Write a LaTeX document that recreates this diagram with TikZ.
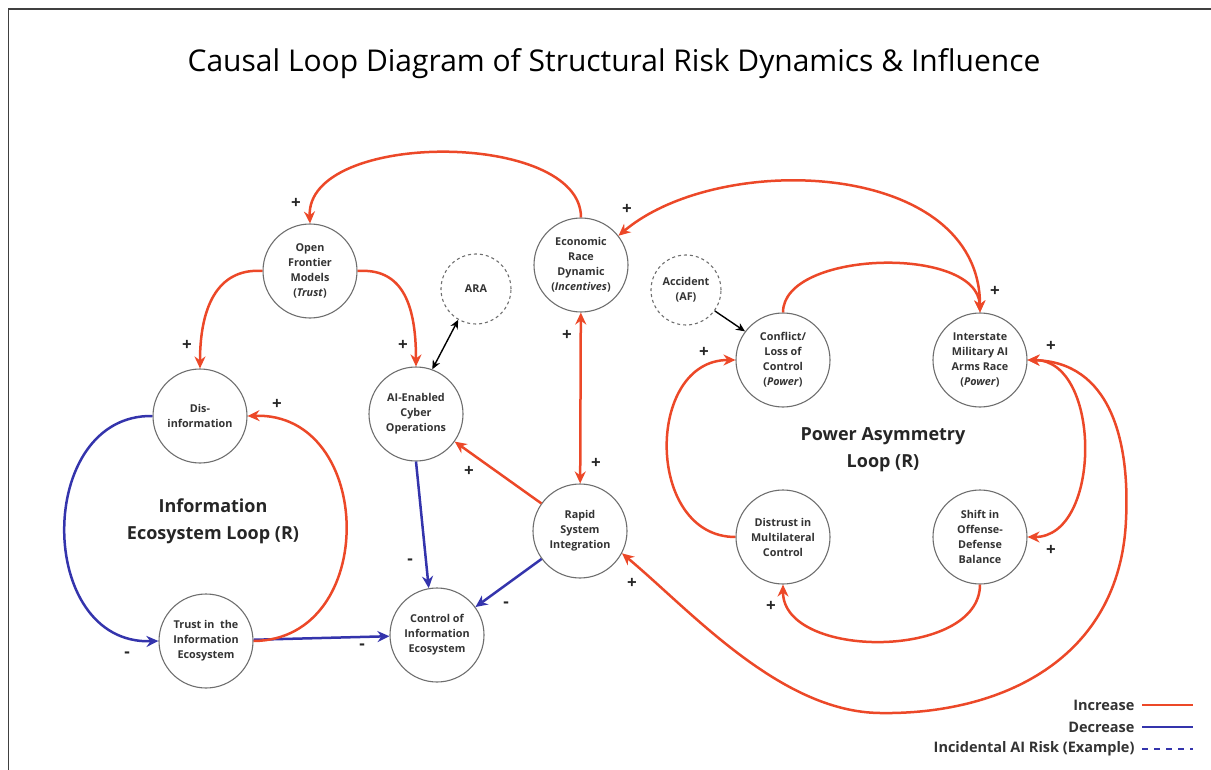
\documentclass[tikz,border=0pt]{standalone}
\usepackage{fontspec}
\setmainfont{Open Sans}
\usetikzlibrary{arrows.meta}
\definecolor{incred}{RGB}{236,72,40}
\definecolor{decblue}{RGB}{52,52,172}
\definecolor{rimgray}{RGB}{110,110,110}
\begin{document}
\begin{tikzpicture}[x=1pt,y=-1pt,
  var/.style={draw=rimgray, line width=1.1pt, circle, minimum size=94pt, inner sep=0pt, align=center,
    font=\fontsize{10.8}{15}\selectfont\bfseries, text=black!80},
  ext/.style={var, dashed, minimum size=70pt},
  sign/.style={font=\fontsize{17}{17}\selectfont\bfseries, text=black!85},
  looptext/.style={align=center, font=\fontsize{18}{27}\selectfont\bfseries, text=black!85},
  inc/.style={draw=incred, line width=2.5pt, -{Stealth[length=12pt,width=11pt]}},
  dec/.style={draw=decblue, line width=2.5pt, -{Stealth[length=12pt,width=11pt]}},
  risk/.style={draw=black, line width=1.4pt, -{Stealth[length=9pt,width=8pt]}},
  legtext/.style={anchor=east, font=\fontsize{14.5}{14.5}\selectfont\bfseries, text=black!80}]
  \useasboundingbox (0,0) rectangle (1211,770);
  % frame
  \draw[black!75, line width=1.5pt] (8.5,770) -- (8.5,9) -- (1211,9);
  \node (title) at (614,64) {\fontsize{30}{30}\selectfont Causal Loop Diagram of Structural Risk Dynamics \& Influence};

  % variables
  \node[var] (ofm) at (310,271) {Open\\Frontier\\Models\\(\textit{Trust})};
  \node[var] (dis) at (200,416) {Dis-\\information};
  \node[var] (tie) at (206,641) {Trust in\ \ the\\Information\\Ecosystem};
  \node[var] (ai) at (416,414) {AI-Enabled\\Cyber\\Operations};
  \node[ext] (ara) at (476,289) {ARA};
  \node[var] (cie) at (437,635) {Control of\\Information\\Ecosystem};
  \node[var] (eco) at (581,265) {Economic\\Race\\Dynamic\\(\textit{Incentives})};
  \node[var] (rsi) at (580,531) {Rapid\\System\\Integration};
  \node[ext] (acc) at (686,290) {Accident\\(AF)};
  \node[var] (con) at (783,360) {Conflict/\\Loss of\\Control\\(\textit{Power})};
  \node[var] (int) at (980,360) {Interstate\\Military AI\\Arms Race\\(\textit{Power})};
  \node[var] (dmc) at (783,537) {Distrust in\\Multilateral\\Control};
  \node[var] (sod) at (980,537) {Shift in\\Offense-\\Defense\\Balance};

  \node[looptext] (infoloop) at (213,521) {Information\\Ecosystem Loop (R)};
  \node[looptext] (powloop) at (883,450) {Power Asymmetry\\Loop (R)};

  % links
  \draw[inc] (eco.north) .. controls (581,130) and (306,130) .. (ofm.north);
  \draw[inc] (ofm.west) .. controls (222,268) and (200,300) .. (dis.north);
  \draw[inc] (ofm.east) .. controls (400,268) and (416,300) .. (ai.north);
  \draw[risk, {Stealth[length=9pt,width=8pt]}-{Stealth[length=9pt,width=8pt]}] (ara.240) -- (ai.70);
  \draw[inc, {Stealth[length=12pt,width=11pt]}-{Stealth[length=12pt,width=11pt]}] (eco.38) .. controls (720,150) and (980,160) .. (int.north);
  \draw[inc] (con.north) .. controls (783,250) and (978,245) .. (int.north);
  \draw[inc, {Stealth[length=12pt,width=11pt]}-{Stealth[length=12pt,width=11pt]}] (eco) -- (rsi);
  \draw[inc] (rsi) -- (ai);
  \draw[dec] (ai.south) -- (cie.100);
  \draw[dec] (rsi) -- (cie);
  \draw[dec] (tie) -- (cie);
  \draw[dec] (dis.west) .. controls (35,414) and (35,645) .. (tie.west);
  \draw[inc] (tie.east) .. controls (380,640) and (375,412) .. (dis.east);
  \draw[risk] (acc.-36) -- (con.143);
  \draw[inc] (dmc.west) .. controls (645,537) and (645,360) .. (con.west);
  \draw[inc] (sod.south) .. controls (980,660) and (783,660) .. (dmc.south);
  \draw[inc, {Stealth[length=12pt,width=11pt]}-{Stealth[length=12pt,width=11pt]}] (int.east) .. controls (1102,360) and (1102,537) .. (sod.east);
  \draw[inc, {Stealth[length=12pt,width=11pt]}-{Stealth[length=12pt,width=11pt]}] (int.east) .. controls (1110,362) and (1130,440) .. (1126,520)
    .. controls (1120,660) and (1000,715) .. (880,713)
    .. controls (780,712) and (690,610) .. (rsi.-28);

  % polarities
  \node[sign] (s1) at (296,203) {+};
  \node[sign] (s2) at (627,209) {+};
  \node[sign] (s3) at (187,345) {+};
  \node[sign] (s4) at (403,345) {+};
  \node[sign] (s5) at (995,291) {+};
  \node[sign] (s6) at (1051,346) {+};
  \node[sign] (s7) at (704,352) {+};
  \node[sign] (s8) at (567,335) {+};
  \node[sign] (s9) at (277,404) {+};
  \node[sign] (s10) at (596,463) {+};
  \node[sign] (s11) at (469,471) {+};
  \node[sign] (s12) at (410,562) {-};
  \node[sign] (s13) at (506,605) {-};
  \node[sign] (s14) at (362,647) {-};
  \node[sign] (s15) at (127,655) {-};
  \node[sign] (s16) at (1051,550) {+};
  \node[sign] (s17) at (632,583) {+};
  \node[sign] (s18) at (771,606) {+};

  % legend
  \node[legtext] (lginc) at (1138,705) {Increase};
  \node[legtext] (lgdec) at (1138,727) {Decrease};
  \node[legtext] (lgrisk) at (1138,749) {Incidental AI Risk (Example)};
  \coordinate (lgincend) at (1193,705);
  \coordinate (lgdecend) at (1193,727);
  \coordinate (lgriskend) at (1193,749);
  \draw[incred, line width=2.2pt] ([xshift=4pt]lginc.east) -- (lgincend);
  \draw[decblue, line width=2.2pt] ([xshift=4pt]lgdec.east) -- (lgdecend);
  \draw[decblue, line width=1.6pt, dash pattern=on 6pt off 6pt] ([xshift=4pt]lgrisk.east) -- (lgriskend);
\end{tikzpicture}
\end{document}
